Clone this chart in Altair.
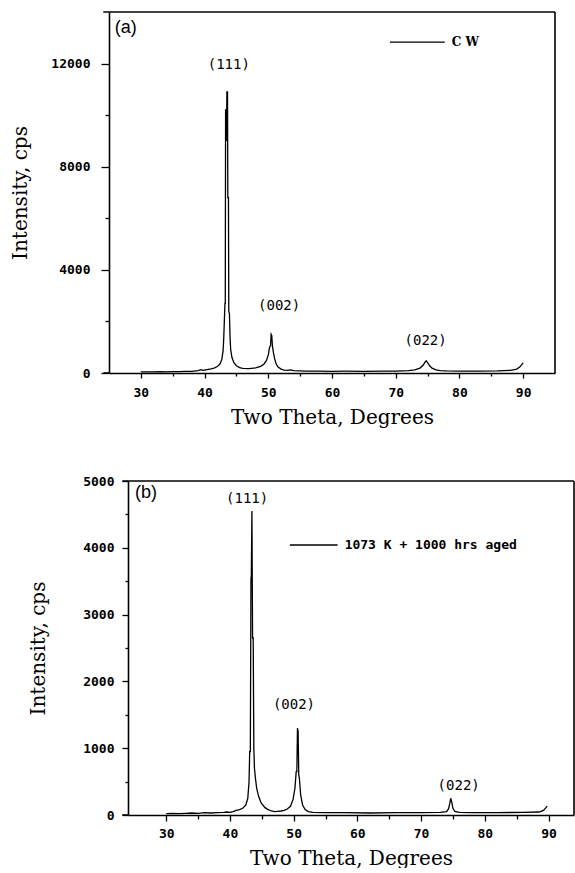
import altair as alt
import pandas as pd

# ---------------- data ----------------
# Panel (a): cold worked (CW)
theta_a = [30.0, 31.0, 32.0, 33.0, 34.0, 35.0, 36.0, 37.0, 38.0, 39.0, 39.4, 39.8,
           40.2, 40.6, 41.0, 41.5, 42.0, 42.4, 42.7, 42.9, 43.0, 43.1, 43.2, 43.25,
           43.3, 43.4, 43.45, 43.5, 43.6, 43.65, 43.75, 43.8, 43.9, 44.0, 44.1, 44.3,
           44.6, 45.0, 45.5, 46.0, 47.0, 48.0, 48.8, 49.3, 49.7, 50.0, 50.2, 50.35,
           50.45, 50.55, 50.65, 50.8, 51.0, 51.2, 51.5, 52.0, 52.5, 53.0, 53.5, 54.0,
           56.0, 58.0, 60.0, 62.0, 65.0, 68.0, 70.0, 72.0, 73.0, 73.8, 74.3, 74.6,
           74.8, 75.0, 75.3, 75.7, 76.3, 77.0, 78.0, 80.0, 83.0, 86.0, 88.0, 89.0,
           89.5, 90.0]
cps_a = [40, 45, 40, 50, 45, 55, 50, 60, 65, 90, 130, 100,
         120, 140, 160, 190, 250, 340, 520, 850, 1300, 2000, 2700, 2700,
         10200, 10200, 9000, 10900, 10900, 6800, 6800, 2400, 2300, 1400, 900, 600,
         400, 280, 210, 180, 170, 200, 260, 340, 480, 700, 1000, 1050,
         1500, 1450, 1050, 800, 550, 380, 240, 150, 110, 100, 120, 90,
         75, 70, 65, 70, 65, 70, 75, 90, 120, 190, 300, 420,
         470, 400, 290, 190, 120, 95, 80, 75, 70, 80, 100, 150,
         240, 390]

# Panel (b): 1073 K + 1000 hrs aged
theta_b = [30.0, 31.0, 32.0, 33.0, 34.0, 35.0, 36.0, 37.0, 38.0, 39.0, 39.5, 40.0,
           40.5, 41.0, 41.5, 42.0, 42.5, 42.8, 43.0, 43.1, 43.2, 43.3, 43.35, 43.45,
           43.55, 43.65, 43.75, 43.85, 44.0, 44.2, 44.5, 44.9, 45.5, 46.0, 46.5, 47.0,
           47.5, 48.0, 48.5, 49.0, 49.5, 49.9, 50.2, 50.4, 50.5, 50.6, 50.7, 50.8,
           50.9, 51.1, 51.4, 51.8, 52.3, 53.0, 55.0, 58.0, 62.0, 66.0, 70.0, 73.0,
           74.0, 74.3, 74.5, 74.65, 74.8, 75.0, 75.3, 76.0, 78.0, 82.0, 86.0, 88.5,
           89.2, 89.6, 89.8]
cps_b = [20, 25, 20, 25, 30, 25, 35, 30, 35, 40, 45, 40,
         50, 70, 80, 100, 150, 250, 500, 950, 950, 3550, 3550, 4550,
         2650, 2650, 1000, 700, 550, 400, 280, 180, 110, 80, 60, 50,
         55, 60, 70, 90, 130, 230, 400, 650, 650, 1300, 1250, 600,
         550, 300, 150, 80, 50, 40, 35, 35, 30, 35, 35, 40,
         50, 90, 170, 250, 200, 100, 55, 40, 35, 35, 40, 45,
         70, 110, 130]

peak_names = ["(111)", "(002)", "(022)"]
peak_theta_a = [43.8, 51.7, 74.7]
peak_cps_a = [11950, 2600, 1240]
peak_theta_b = [42.7, 50.05, 75.9]
peak_cps_b = [4730, 1650, 434]

panel_tags = ["(a)", "(b)"]
tag_theta = [25.9, 25.1]
tag_cps = [13380, 4820]

legend_names = ["C W", "1073 K + 1000 hrs aged"]
legend_start = [69.1, 49.4]
legend_end = [77.7, 56.9]
legend_cps = [12835, 4042]
legend_text_theta = [78.8, 58.0]

x_domain_a = [25, 95]
y_domain_a = [0, 14000]
x_domain_b = [24, 94]
y_domain_b = [0, 5000]
frame_overhang = 0.9   # top border / x axis run slightly left of the y axis
x_ticks = [30, 35, 40, 45, 50, 55, 60, 65, 70, 75, 80, 85, 90]
y_ticks_a = [0, 2000, 4000, 6000, 8000, 10000, 12000]
y_ticks_b = [0, 500, 1000, 1500, 2000, 2500, 3000, 3500, 4000, 4500, 5000]


def make_panel(theta, cps, xdom, ydom, xrange, width, height, yticks, ymajor,
               ytick_big, ytick_small, xtick_big, xtick_small, ylab_pad, ytitle_pad,
               xlab_pad, xtitle_pad, yoffset, pk_theta, pk_cps, tag_i,
               legend_font, legend_size):
    if xrange is not None:
        xs = alt.Scale(domain=xdom, range=xrange, nice=False, zero=False)
    else:
        xs = alt.Scale(domain=xdom, nice=False, zero=False)
    xaxis = alt.Axis(values=x_ticks, format="d",
                     labelExpr="datum.value % 10 === 0 ? datum.label : ''",
                     tickSize={"condition": {"test": "datum.value % 10 === 0", "value": xtick_big},
                               "value": xtick_small},
                     labelPadding=xlab_pad, titlePadding=xtitle_pad,
                     labelOverlap=False, labelFlush=False, grid=False)
    yaxis = alt.Axis(values=yticks, format="d",
                     labelExpr=f"datum.value % {ymajor} === 0 ? datum.label : ''",
                     tickSize={"condition": {"test": f"datum.value % {ymajor} === 0", "value": ytick_big},
                               "value": ytick_small},
                     labelPadding=ylab_pad, titlePadding=ytitle_pad, offset=yoffset,
                     labelOverlap=False, labelFlush=False, grid=False)
    ys = alt.Scale(domain=ydom, nice=False, zero=False)

    def X(f="theta:Q"):
        return alt.X(f, scale=xs, axis=xaxis, title="Two Theta, Degrees")

    def Y(f="cps:Q"):
        return alt.Y(f, scale=ys, axis=yaxis, title="Intensity, cps")

    curve = pd.DataFrame({"theta": theta, "cps": cps})
    line = alt.Chart(curve).mark_line(color="black", strokeWidth=1.3).encode(
        x=X(), y=Y(), order="theta:Q")

    x0 = xdom[0] - frame_overhang
    frame = pd.DataFrame({"theta": [x0, xdom[1], x0],
                          "theta2": [xdom[1], xdom[1], xdom[0]],
                          "cps": [ydom[1], ydom[0], ydom[0]],
                          "cps2": [ydom[1], ydom[1], ydom[0]]})
    border = alt.Chart(frame).mark_rule(color="black", strokeWidth=1.6).encode(
        x=X(), x2="theta2:Q", y=Y(), y2="cps2:Q")

    peaks = pd.DataFrame({"theta": pk_theta, "cps": pk_cps, "label": peak_names})
    peak_text = alt.Chart(peaks).mark_text(font="DejaVu Sans Mono", fontSize=14,
                                           color="black", align="center",
                                           baseline="middle").encode(
        x=X(), y=Y(), text="label:N")

    tag = pd.DataFrame({"theta": [tag_theta[tag_i]], "cps": [tag_cps[tag_i]],
                        "label": [panel_tags[tag_i]]})
    tag_text = alt.Chart(tag).mark_text(font="Liberation Sans", fontSize=18,
                                        color="black", align="left",
                                        baseline="middle").encode(
        x=X(), y=Y(), text="label:N")

    leg = pd.DataFrame({"theta": [legend_start[tag_i]], "theta2": [legend_end[tag_i]],
                        "cps": [legend_cps[tag_i]]})
    leg_line = alt.Chart(leg).mark_rule(color="black", strokeWidth=1.3).encode(
        x=X(), x2="theta2:Q", y=Y())
    legt = pd.DataFrame({"theta": [legend_text_theta[tag_i]], "cps": [legend_cps[tag_i]],
                         "label": [legend_names[tag_i]]})
    leg_text = alt.Chart(legt).mark_text(font=legend_font, fontSize=legend_size,
                                         fontWeight="bold", color="black",
                                         align="left", baseline="middle").encode(
        x=X(), y=Y(), text="label:N")

    return alt.layer(line, border, peak_text, tag_text, leg_line, leg_text).properties(
        width=width, height=height)


panel_a = make_panel(theta_a, cps_a, x_domain_a, y_domain_a, None, 446, 361,
                     y_ticks_a, 4000, 8, 4, 5, 3, 11, 20, 8, 8, 0,
                     peak_theta_a, peak_cps_a, 0, "DejaVu Serif", 12)
panel_b = make_panel(theta_b, cps_b, x_domain_b, y_domain_b, [19, 465], 465, 334,
                     y_ticks_b, 1000, 6, 3, 6, 4, 8, 34, 6, 8, -19,
                     peak_theta_b, peak_cps_b, 1, "DejaVu Sans Mono", 13)

chart = alt.vconcat(panel_a, panel_b, spacing=48).properties(
    padding={"left": 10, "top": 11, "right": 0, "bottom": 0}
).configure_view(stroke=None).configure_axis(
    domainColor="black", domainWidth=1.6, tickColor="black", tickWidth=1.3,
    labelFont="DejaVu Sans Mono", labelFontWeight="bold", labelFontSize=13,
    labelColor="black", titleFont="DejaVu Serif", titleFontWeight="normal",
    titleFontSize=20, titleColor="black"
)

chart.save("out.html", embed_options={"renderer": "svg", "actions": False})
